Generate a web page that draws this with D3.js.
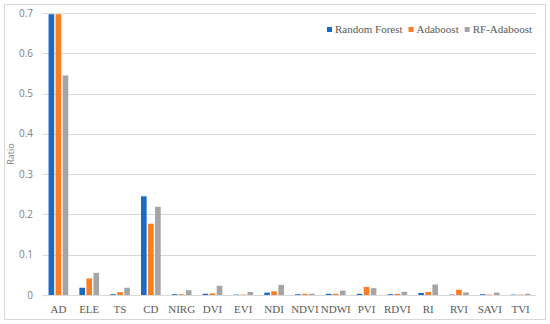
<!DOCTYPE html>
<html>
<head>
<meta charset="utf-8">
<script src="https://cdn.jsdelivr.net/npm/d3@7"></script>
<style>
body { margin: 0; background: #fff; }
svg { display: block; }
</style>
</head>
<body>
<svg></svg>
<script>
var categories = ['AD', 'ELE', 'TS', 'CD', 'NIRG', 'DVI', 'EVI', 'NDI', 'NDVI', 'NDWI', 'PVI', 'RDVI', 'RI', 'RVI', 'SAVI', 'TVI'];
var seriesNames = ['Random Forest', 'Adaboost', 'RF-Adaboost'];
var randomForest = [0.697, 0.018, 0.002, 0.245, 0.002, 0.003, 0.001, 0.006, 0.002, 0.003, 0.003, 0.002, 0.005, 0.001, 0.002, 0.001];
var adaboost = [0.697, 0.041, 0.007, 0.177, 0.002, 0.004, 0.001, 0.009, 0.003, 0.003, 0.020, 0.003, 0.0075, 0.013, 0.001, 0.001];
var rfAdaboost = [0.545, 0.055, 0.018, 0.219, 0.012, 0.023, 0.0075, 0.025, 0.003, 0.011, 0.017, 0.008, 0.026, 0.0065, 0.006, 0.003];
var yTicks = [0, 0.1, 0.2, 0.3, 0.4, 0.5, 0.6, 0.7];

var colors = ['#1b6bc6', '#fb7d26', '#a5a5a5'];
var seriesValues = [randomForest, adaboost, rfAdaboost];

var W = 550, H = 324;
var margin = { left: 43, right: 14, top: 13, bottom: 29 };

var svg = d3.select('svg')
    .attr('width', W)
    .attr('height', H);

// outer frame
svg.append('rect')
    .attr('x', 4.5).attr('y', 4.5)
    .attr('width', 541).attr('height', 315)
    .attr('fill', 'none')
    .attr('stroke', '#d9d9d9');

var x = d3.scaleBand()
    .domain(categories)
    .range([margin.left, W - margin.right])
    .paddingInner(0.36)
    .paddingOuter(0.18);

var xSub = d3.scaleBand()
    .domain(d3.range(seriesNames.length))
    .range([0, x.bandwidth()])
    .paddingInner(0.2);

var y = d3.scaleLinear()
    .domain([0, 0.7])
    .range([H - margin.bottom, margin.top]);

// gridlines
svg.append('g')
    .selectAll('line')
    .data(yTicks.slice(1))
    .join('line')
    .attr('x1', margin.left)
    .attr('x2', W - margin.right)
    .attr('y1', d => Math.round(y(d)) + 0.5)
    .attr('y2', d => Math.round(y(d)) + 0.5)
    .attr('stroke', '#d9d9d9');

// y tick labels
svg.append('g')
    .selectAll('text')
    .data(yTicks)
    .join('text')
    .attr('x', 33)
    .attr('y', d => y(d) + 3.5)
    .attr('text-anchor', 'end')
    .attr('font-family', 'Open Sans, sans-serif')
    .attr('font-size', 10)
    .attr('fill', '#7f7f7f')
    .text(d => d === 0 ? '0' : d3.format('.1f')(d));

svg.append('text')
    .attr('transform', 'translate(14,' + (margin.top + (H - margin.bottom - margin.top) / 2) + ') rotate(-90)')
    .attr('text-anchor', 'middle')
    .attr('font-family', 'Open Sans, sans-serif')
    .attr('font-size', 9)
    .attr('fill', '#7f7f7f')
    .text('Ratio');

// bars
var groups = svg.append('g')
    .selectAll('g')
    .data(seriesValues)
    .join('g')
    .attr('fill', (d, i) => colors[i]);

groups.each(function(vals, si) {
    d3.select(this).selectAll('rect')
        .data(vals)
        .join('rect')
        .attr('x', (d, i) => x(categories[i]) + xSub(si))
        .attr('width', xSub.bandwidth())
        .attr('y', d => y(d))
        .attr('height', d => y(0) - y(d));
});

// baseline
svg.append('line')
    .attr('x1', margin.left)
    .attr('x2', W - margin.right)
    .attr('y1', Math.round(y(0)) + 0.5)
    .attr('y2', Math.round(y(0)) + 0.5)
    .attr('stroke', '#d9d9d9');

// x labels
svg.append('g')
    .selectAll('text')
    .data(categories)
    .join('text')
    .attr('x', d => x(d) + x.bandwidth() / 2)
    .attr('y', 313)
    .attr('text-anchor', 'middle')
    .attr('font-family', 'Liberation Serif, serif')
    .attr('font-size', 11)
    .attr('fill', '#595959')
    .text(d => d);

// legend
var legend = svg.append('g')
    .attr('transform', 'translate(327,32.5)');

var lx = 0;
seriesNames.forEach(function(name, i) {
    var item = legend.append('g').attr('transform', 'translate(' + lx + ',0)');
    item.append('rect')
        .attr('x', 0).attr('y', -5.5)
        .attr('width', 5).attr('height', 5)
        .attr('fill', colors[i]);
    var t = item.append('text')
        .attr('x', 8)
        .attr('y', 0)
        .attr('font-family', 'Liberation Serif, serif')
        .attr('font-size', 11)
        .attr('fill', '#595959')
        .text(name);
    lx += 8 + t.node().getComputedTextLength() + 6;
});
</script>
</body>
</html>
